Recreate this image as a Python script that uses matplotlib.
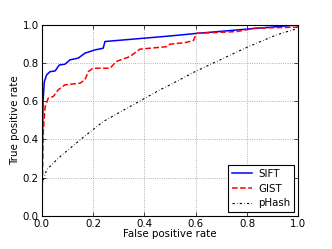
import numpy as np
import matplotlib
matplotlib.use('Agg')
import matplotlib.pyplot as plt

# ROC curves
sift_fpr = [0.0, 0.003, 0.006, 0.011, 0.02, 0.033, 0.053, 0.069, 0.091, 0.111, 0.143,
            0.169, 0.208, 0.24, 0.247, 0.5, 0.6, 0.8, 1.0]
sift_tpr = [0.0, 0.3, 0.6, 0.703, 0.738, 0.755, 0.759, 0.79, 0.794, 0.817, 0.826,
            0.852, 0.869, 0.878, 0.913, 0.942, 0.955, 0.978, 1.0]

gist_fpr = [0.0, 0.004, 0.006, 0.01, 0.014, 0.026, 0.046, 0.065, 0.091, 0.15, 0.169,
            0.182, 0.2, 0.267, 0.29, 0.344, 0.383, 0.487, 0.5, 0.558, 0.591, 0.604,
            0.76, 0.831, 0.993, 1.0]
gist_tpr = [0.0, 0.2, 0.415, 0.5, 0.572, 0.616, 0.625, 0.66, 0.686, 0.695, 0.712,
            0.755, 0.773, 0.773, 0.808, 0.834, 0.873, 0.886, 0.899, 0.907, 0.918, 0.956,
            0.965, 0.983, 0.988, 1.0]

phash_fpr = [0.0, 0.001, 0.02, 0.065, 0.15, 0.24, 0.461, 0.5, 0.597, 0.695, 0.805,
             0.915, 0.986, 1.0]
phash_tpr = [0.0, 0.162, 0.241, 0.302, 0.398, 0.494, 0.66, 0.686, 0.755, 0.817, 0.886,
             0.948, 0.977, 0.99]

plt.rcParams['font.size'] = 7.4
plt.rcParams['xtick.direction'] = 'in'
plt.rcParams['ytick.direction'] = 'in'

fig = plt.figure(figsize=(3.32, 2.49), dpi=100)
ax = fig.add_axes([0.125, 0.133, 0.774, 0.767])

ax.plot(sift_fpr, sift_tpr, color='b', linestyle='-', linewidth=1.1, label='SIFT')
ax.plot(gist_fpr, gist_tpr, color='r', linestyle='--', linewidth=1.1, label='GIST')
ax.plot(phash_fpr, phash_tpr, color='k', linestyle='-.', linewidth=0.8,
        dashes=(2, 2, 0.5, 2), label='pHash')

ax.set_xlim(0, 1)
ax.set_ylim(0, 1)
ax.set_xticks(np.arange(0, 1.01, 0.2))
ax.set_yticks(np.arange(0, 1.01, 0.2))
ax.grid(True, color='0.6', linestyle=':', linewidth=0.6)
ax.tick_params(top=True, right=True, length=3, width=0.5, pad=2)
for s in ax.spines.values():
    s.set_linewidth(0.8)

ax.set_xlabel('False positive rate', labelpad=0)
ax.set_ylabel('True positive rate', labelpad=2)

leg = ax.legend(loc='lower right', fancybox=False, framealpha=1, edgecolor='k',
                handlelength=2.0, handletextpad=0.6, borderpad=0.35,
                labelspacing=0.45, borderaxespad=0.4)
leg.get_frame().set_linewidth(0.8)

fig.savefig('out.png', dpi=100)
